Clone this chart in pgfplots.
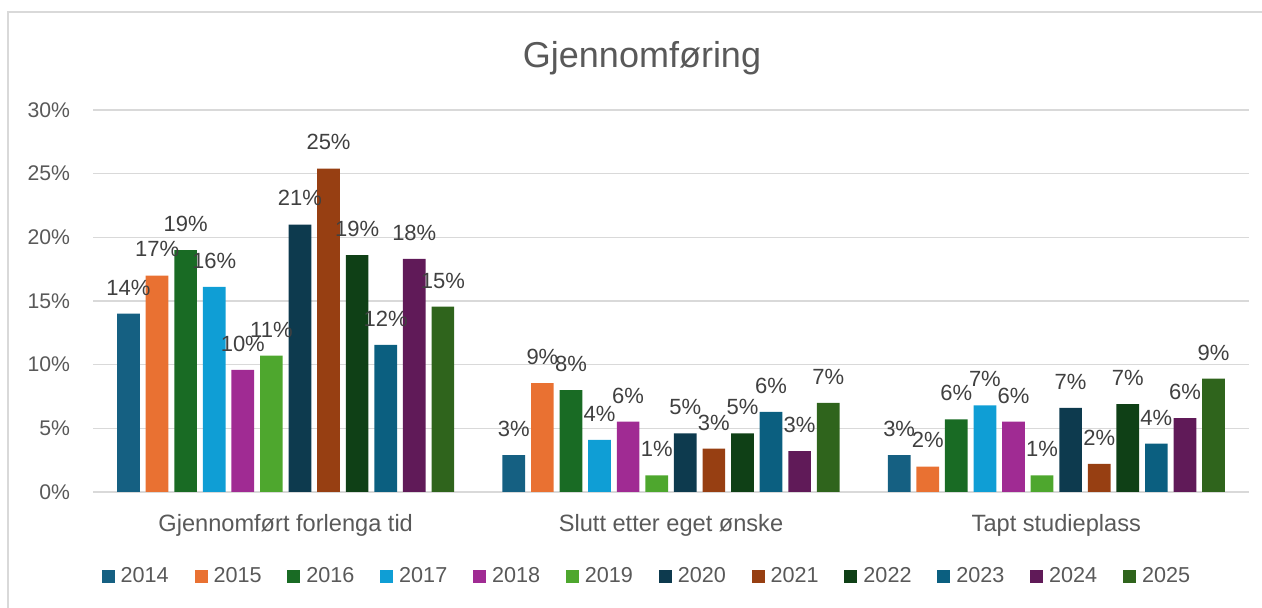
\documentclass[border=0pt]{standalone}
\usepackage{pgfplots}
\pgfplotsset{compat=1.18}
\usepackage{fontspec}
\setmainfont{Liberation Sans}

% year colours
\definecolor{c14}{HTML}{156082}
\definecolor{c15}{HTML}{E97132}
\definecolor{c16}{HTML}{196B24}
\definecolor{c17}{HTML}{0F9ED5}
\definecolor{c18}{HTML}{A02B93}
\definecolor{c19}{HTML}{4EA72E}
\definecolor{c20}{HTML}{0D3A4E}
\definecolor{c21}{HTML}{973F12}
\definecolor{c22}{HTML}{0F4016}
\definecolor{c23}{HTML}{0B5F80}
\definecolor{c24}{HTML}{601A58}
\definecolor{c25}{HTML}{2F641C}
\definecolor{txt}{HTML}{595959}
\definecolor{lbl}{HTML}{404040}
\definecolor{grd}{HTML}{D9D9D9}

\begin{document}
\begin{tikzpicture}
  \path[use as bounding box] (0,0) rectangle (631pt,304pt);
  \draw[grd,line width=0.8pt] (4pt,0) -- (4pt,298pt) -- (631pt,298pt);
  \node[text=txt,font=\fontsize{18}{21}\selectfont] at (321pt,275pt) {Gjennomføring};
  \begin{axis}[
    at={(46.5pt,58pt)}, anchor=south west,
    scale only axis, width=578pt, height=191pt,
    xmin=-0.5, xmax=2.5, ymin=0, ymax=30,
    ybar=2.94pt, bar width=11.35pt,
    xtick={0,1,2},
    xticklabels={Gjennomført forlenga tid,Slutt etter eget ønske,Tapt studieplass},
    ytick={0,5,...,30},
    yticklabels={0\%,5\%,10\%,15\%,20\%,25\%,30\%},
    major tick length=0pt,
    axis line style={draw=none},
    axis x line*=bottom,
    ymajorgrids, grid style={grd,line width=0.8pt},
    xticklabel style={text=txt,font=\fontsize{11.8}{14}\selectfont,yshift=-7.5pt},
    yticklabel style={text=txt,font=\fontsize{10.6}{12}\selectfont,xshift=-8pt},
    nodes near coords={\pgfmathprintnumber[fixed,precision=0,assume math mode=true]{\pgfplotspointmeta}\%},
    every node near coord/.append style={anchor=base,yshift=9.3pt,text=lbl,
      font=\fontsize{11}{13}\selectfont,inner sep=0pt},
    legend columns=12,
    legend style={at={(0.48,-0.22)},anchor=center,draw=none,
      font=\fontsize{10.8}{12}\selectfont,text=txt,
      /tikz/every odd column/.append style={column sep=1pt},
      /tikz/every even column/.append style={column sep=10.9pt}},
    legend image code/.code={\fill[#1] (0pt,-3.25pt) rectangle (6.5pt,3.25pt);},
    clip=false,
  ]
    \addplot[fill=c14,draw=none] coordinates {(0,14.0) (1,2.9) (2,2.9)};
    \addplot[fill=c15,draw=none] coordinates {(0,17.0) (1,8.55) (2,2.0)};
    \addplot[fill=c16,draw=none] coordinates {(0,19.0) (1,8.0) (2,5.7)};
    \addplot[fill=c17,draw=none] coordinates {(0,16.1) (1,4.1) (2,6.8)};
    \addplot[fill=c18,draw=none] coordinates {(0,9.6) (1,5.52) (2,5.52)};
    \addplot[fill=c19,draw=none] coordinates {(0,10.7) (1,1.3) (2,1.3)};
    \addplot[fill=c20,draw=none] coordinates {(0,21.0) (1,4.6) (2,6.6)};
    \addplot[fill=c21,draw=none] coordinates {(0,25.4) (1,3.4) (2,2.2)};
    \addplot[fill=c22,draw=none] coordinates {(0,18.6) (1,4.6) (2,6.9)};
    \addplot[fill=c23,draw=none] coordinates {(0,11.55) (1,6.3) (2,3.8)};
    \addplot[fill=c24,draw=none] coordinates {(0,18.3) (1,3.2) (2,5.8)};
    \addplot[fill=c25,draw=none] coordinates {(0,14.55) (1,7.0) (2,8.9)};
    \legend{2014,2015,2016,2017,2018,2019,2020,2021,2022,2023,2024,2025}
  \end{axis}
\end{tikzpicture}
\end{document}
